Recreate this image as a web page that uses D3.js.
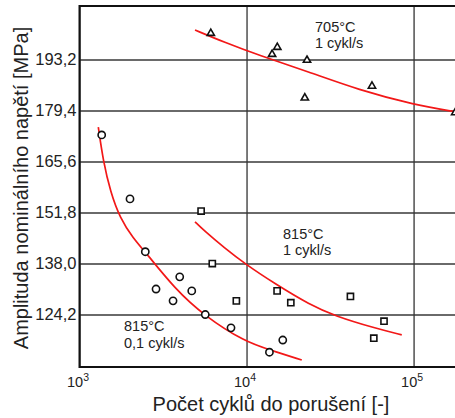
<!DOCTYPE html>
<html lang="cs">
<head>
<meta charset="UTF-8">
<title>Amplituda napětí vs. počet cyklů</title>
<script src="https://d3js.org/d3.v7.min.js"></script>
<style>
  body { margin: 0; background: #fff; }
  svg { display: block; font-family: "Liberation Sans", Arial, sans-serif; }
  .grid-h line { stroke: #6a6a6a; stroke-width: 2; }
  .grid-v line { stroke: #333; stroke-width: 1.3; }
  .fit { fill: none; stroke: #f21818; stroke-width: 1.7; }
  .mark { fill: #fff; stroke: #111; stroke-width: 1.6; }
  .note { font-size: 14.5px; fill: #222; }
</style>
</head>
<body>
<div id="chart"></div>
<script>
// tick values
var yTicks = [124.2, 138.0, 151.8, 165.6, 179.4, 193.2];
var xTicks = [1e3, 1e4, 1e5];

// 815 °C, 0,1 cykl/s  (circles)
var cirN = [1358, 2006, 2477, 2872, 3981, 3631, 4699, 5662, 8072, 16480, 13710];
var cirS = [172.8, 155.5, 141.2, 131.1, 134.4, 127.9, 130.6, 124.2, 120.6, 117.3, 114.0];
var cirFitN = [1296, 1388, 1533, 1748, 2091, 2502, 3732, 5566, 9795, 13830, 21410];
var cirFitS = [174.9, 165.6, 157.4, 150.3, 144.9, 140.9, 131.1, 123.9, 116.8, 114.6, 111.9];

// 815 °C, 1 cykl/s  (squares)
var sqN = [5346, 6237, 8690, 15240, 18410, 41880, 66530, 57790];
var sqS = [152.2, 138.0, 127.9, 130.6, 127.4, 129.1, 122.4, 117.8];
var sqFitN = [4915, 5512, 7433, 9795, 14820, 24000, 33880, 58830, 84970];
var sqFitS = [149.3, 147.1, 142.1, 137.9, 132.5, 126.8, 123.8, 120.5, 118.7];

// 705 °C, 1 cykl/s  (triangles)
var triN = [6110, 15280, 14220, 23010, 22330, 56360, 177400];
var triS = [200.6, 196.8, 194.9, 193.3, 183.1, 186.3, 179.1];
var triFitN = [4915, 7433, 11770, 23450, 46720, 102100, 177300];
var triFitS = [201.2, 197.8, 194.4, 189.9, 185.0, 180.9, 179.1];

var W = 455, H = 418;
var mLeft = 79.5, mTop = 6, mRight = 455, mBottom = 367;

var x = d3.scaleLog().domain([1000, 177000]).range([mLeft, mRight]);
var y = d3.scaleLinear().domain([110.0, 207.7]).range([mBottom, mTop]);

var svg = d3.select("#chart").append("svg")
    .attr("width", W)
    .attr("height", H);

svg.append("clipPath").attr("id", "plot")
  .append("rect")
    .attr("x", mLeft).attr("y", mTop - 2)
    .attr("width", mRight - mLeft + 10).attr("height", mBottom - mTop + 4);

// horizontal grid + y labels
var yAxis = svg.append("g")
    .attr("class", "grid-h")
    .attr("transform", "translate(" + mLeft + ",0)")
    .call(d3.axisLeft(y).tickValues(yTicks).tickSize(-(mRight - mLeft)).tickPadding(3)
        .tickFormat(function(d) { return d3.format(".1f")(d).replace(".", ","); }));
yAxis.select(".domain").remove();
yAxis.selectAll("text")
    .attr("font-size", 16.5)
    .attr("fill", "#222")
    .attr("font-family", "Liberation Sans, Arial, sans-serif");

// vertical grid + x labels
var xAxis = svg.append("g")
    .attr("class", "grid-v")
    .attr("transform", "translate(0," + mBottom + ")")
    .call(d3.axisBottom(x).tickValues(xTicks).tickSize(-(mBottom - mTop)).tickFormat(""));
xAxis.select(".domain").remove();
xAxis.selectAll(".tick").each(function(d) {
    var t = d3.select(this).append("text")
        .attr("x", -2)
        .attr("y", 20)
        .attr("text-anchor", "middle")
        .attr("fill", "#222")
        .attr("font-size", 14.5)
        .attr("font-family", "Liberation Sans, Arial, sans-serif");
    t.append("tspan").text("10");
    t.append("tspan").attr("font-size", 10.5).attr("dy", -6).text(Math.round(Math.log10(d)));
});

// frame: left, bottom, top
svg.append("path")
    .attr("d", d3.line()([[mRight, mTop], [mLeft, mTop], [mLeft, mBottom], [mRight, mBottom]]))
    .attr("fill", "none")
    .attr("stroke", "#111")
    .attr("stroke-width", 2);

var plot = svg.append("g").attr("clip-path", "url(#plot)");

var line = d3.line()
    .x(function(d) { return x(d[0]); })
    .y(function(d) { return y(d[1]); })
    .curve(d3.curveBasis);

function zip(a, b) { return a.map(function(v, i) { return [v, b[i]]; }); }

[[cirFitN, cirFitS], [sqFitN, sqFitS], [triFitN, triFitS]].forEach(function(f) {
    plot.append("path")
        .datum(zip(f[0], f[1]))
        .attr("class", "fit")
        .attr("d", line);
});

function marks(n, s, type, size, dy) {
    plot.selectAll(null)
        .data(zip(n, s))
        .enter().append("path")
        .attr("class", "mark")
        .attr("transform", function(d) { return "translate(" + x(d[0]) + "," + (y(d[1]) + dy) + ")"; })
        .attr("d", d3.symbol(type, size));
}
marks(cirN, cirS, d3.symbolCircle, 41, 0);
marks(sqN, sqS, d3.symbolSquare, 38, 0);
marks(triN, triS, d3.symbolTriangle, 23, 1);

// annotations
function note(xp, yp, lines) {
    var t = svg.append("text").attr("class", "note");
    lines.forEach(function(s, i) {
        t.append("tspan").attr("x", xp).attr("y", yp + i * 16.5).text(s);
    });
}
note(315, 31.5, ["705°C", "1 cykl/s"]);
note(283, 238.5, ["815°C", "1 cykl/s"]);
note(124, 331, ["815°C", "0,1 cykl/s"]);

// axis titles
svg.append("text")
    .attr("x", 271)
    .attr("y", 410.5)
    .attr("text-anchor", "middle")
    .attr("font-size", 20)
    .attr("fill", "#222")
    .text("Počet cyklů do porušení [-]");

svg.append("text")
    .attr("transform", "translate(28,188) rotate(-90)")
    .attr("text-anchor", "middle")
    .attr("font-size", 20)
    .attr("fill", "#222")
    .text("Amplituda nominálního napětí [MPa]");
</script>
</body>
</html>
